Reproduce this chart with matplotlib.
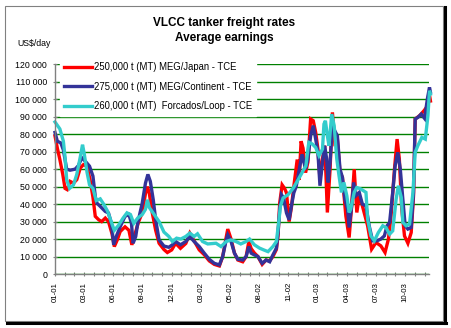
import matplotlib
matplotlib.use("Agg")
import matplotlib.pyplot as plt
from matplotlib.patches import Rectangle
from matplotlib.lines import Line2D
from matplotlib.ticker import FuncFormatter, MultipleLocator

plt.rcParams['font.family'] = ['Liberation Sans', 'DejaVu Sans']

W, H = 452, 328

# x positions are in "tick" units (category axis, labels every 3 ticks)
tick_labels = ["01-01", "03-01", "06-01", "09-01", "12-01", "03-02", "05-02",
               "08-02", "11-02", "01-03", "04-03", "07-03", "10-03"]

# 250,000 t (MT) MEG/Japan - TCE  (US$/day, thousands)
japan_t = [0, 0.24, 0.5, 0.8, 1.03, 1.25, 1.55, 1.9, 2.24, 2.6, 2.93, 3.28, 3.6, 3.9, 4.14,
           4.5, 4.8, 5.17, 5.5, 5.86, 6.1, 6.4, 6.7, 7.2, 7.6, 7.9, 8.3, 8.6, 8.97, 9.3,
           9.5, 9.7, 10.0, 10.35, 10.7, 11.2, 11.55, 12.0, 12.4, 12.9, 13.45, 13.86, 14.3,
           14.83, 15.35, 15.86, 16.38, 16.9, 17.24, 17.6, 17.76, 18.1, 18.45, 18.8, 19.3,
           19.65, 19.93, 20.17, 20.5, 20.86, 21.3, 21.7, 22.07, 22.4, 22.76, 22.93, 23.1,
           23.35, 23.6, 23.8, 24.07, 24.3, 24.55, 24.9, 25.1, 25.3, 25.5, 25.76, 26.0,
           26.28, 26.55, 26.8, 27.03, 27.24, 27.5, 27.72, 27.86, 28.0, 28.28, 28.52, 28.76,
           29.03, 29.3, 29.55, 29.9, 30.24, 30.5, 30.76, 31.03, 31.28, 31.6, 32.14, 32.55,
           33.0, 33.5, 33.93, 34.28, 34.55, 34.9, 35.17, 35.4, 35.65, 35.93, 36.28, 36.62,
           36.86, 37.03, 37.48, 37.93, 38.28, 38.45, 38.6]
japan_k = [79, 72, 65.5, 57, 49, 48.3, 53, 52, 54, 60.7, 62.6, 61.7, 54, 44, 33,
           31, 30, 32, 30, 23, 15.7, 19.5, 24.3, 27, 25, 16.7, 24.3, 30, 35, 46,
           50, 46, 35, 25, 17.6, 14, 12.3, 13.8, 17.6, 14.7, 17.5, 23.4, 19,
           13.8, 11, 7.5, 5.5, 4.6, 10, 21, 25.7, 20, 12, 8, 7,
           10, 18.6, 14.5, 12, 10, 5.5, 8, 7.5, 10, 14, 22, 40.6,
           51, 49, 46.4, 30, 38, 50, 65.5, 54, 76, 72, 58, 64,
           88.7, 87.7, 81, 71.5, 54.3, 65.8, 73.4, 56.2, 35.2, 60, 92.5, 75.3,
           77.2, 58.1, 55.3, 33.3, 20.9, 39, 60, 35.2, 44.8, 39, 27.6, 14.2,
           18, 16.1, 12.3, 20, 33.3, 60, 77.2, 65.8, 37.1, 21.8, 17.6, 23.7,
           44.8, 88.7, 90.6, 93.4, 96, 104, 99]

# 275,000 t (MT) MEG/Continent - TCE
cont_t = [0, 0.24, 0.6, 0.86, 1.2, 1.55, 2.07, 2.4, 2.76, 3.1, 3.55, 3.9, 4.14, 4.3, 4.65,
          5.17, 5.5, 5.8, 6.03, 6.3, 6.7, 7.2, 7.6, 7.86, 8.03, 8.3, 8.5, 8.7, 8.97, 9.3,
          9.55, 9.8, 10.1, 10.35, 10.7, 11.2, 11.7, 12.07, 12.4, 12.9, 13.45, 13.86, 14.3,
          14.83, 15.35, 15.86, 16.38, 16.9, 17.24, 17.6, 17.76, 18.1, 18.45, 18.8, 19.3,
          19.65, 19.93, 20.17, 20.5, 20.86, 21.3, 21.7, 22.07, 22.4, 22.76, 22.93, 23.1,
          23.28, 23.5, 23.8, 24.07, 24.3, 24.55, 24.8, 25.17, 25.4, 25.76, 26.0, 26.28,
          26.55, 26.8, 27.03, 27.24, 27.5, 27.72, 27.93, 28.07, 28.28, 28.52, 28.76, 29.03,
          29.3, 29.55, 29.8, 30.07, 30.24, 30.5, 30.7, 30.93, 31.28, 31.6, 31.97, 32.3,
          32.65, 33.1, 33.5, 33.86, 34.14, 34.4, 34.72, 34.97, 35.24, 35.5, 35.76, 36.0,
          36.28, 36.62, 36.86, 37.03, 37.3, 37.65, 38.0, 38.28, 38.5, 38.6]
cont_k = [81, 76, 75, 71, 60, 59.4, 60, 62, 66.5, 64.6, 61.7, 56, 44.4, 40.6, 38.7,
          35.8, 34.9, 29, 16.7, 21.5, 27, 33, 34, 29, 17.6, 21.5, 29, 34, 40.6, 52,
          57, 53, 42.5, 31, 19.5, 16, 15.3, 16.7, 18.6, 16.7, 18.6, 21.5, 18.6,
          15.7, 11.9, 8.4, 6.1, 5.2, 10, 19.5, 22.4, 18.6, 11.9, 8.4, 8,
          10, 15.7, 11.9, 10.9, 10, 6.1, 8, 7, 10.9, 14.8, 23.4, 36.8,
          45.4, 43.5, 34.9, 31, 38.7, 46.4, 50.2, 61.7, 68.5, 60, 65.8, 79.1,
          84.9, 77.2, 69.6, 50.5, 63.9, 73.4, 65.8, 52.4, 63.9, 84.9, 82, 79.1,
          60, 55.3, 42.8, 37.1, 26.6, 39, 52.4, 44.8, 46.7, 40, 39, 27.6,
          19, 19, 20, 21.8, 27.6, 29.5, 46.7, 61.9, 69.6, 60, 42.8, 27.6,
          25.7, 26.6, 46.7, 88.7, 89.6, 91.5, 89, 100.1, 106.8, 104]

# 260,000 t (MT) Forcados/Loop - TCE
loop_t = [0, 0.5, 0.86, 1.03, 1.2, 1.5, 1.9, 2.24, 2.6, 2.83, 3.0, 3.3, 3.55, 3.9, 4.24,
          4.65, 5.0, 5.4, 5.9, 6.1, 6.55, 7.0, 7.4, 7.76, 8.1, 8.5, 8.97, 9.3, 9.5, 9.7,
          10.2, 10.7, 11.2, 11.7, 12.07, 12.5, 12.93, 13.45, 13.86, 14.3, 14.65, 15.17,
          15.7, 16.55, 17.07, 17.6, 18.1, 18.6, 19.1, 19.65, 20.0, 20.5, 21.03, 21.45,
          21.9, 22.4, 22.76, 23.03, 23.17, 23.45, 23.96, 24.5, 25.0, 25.45, 25.8, 26.0,
          26.1, 26.45, 26.8, 27.14, 27.5, 27.65, 27.8, 28.0, 28.17, 28.45, 28.7, 28.97,
          29.2, 29.45, 29.7, 30.0, 30.24, 30.4, 30.76, 31.03, 31.45, 31.97, 32.14, 32.48,
          32.83, 33.24, 33.7, 34.03, 34.4, 34.72, 35.07, 35.3, 35.6, 35.76, 36.1, 36.45,
          36.8, 37.03, 37.3, 37.72, 38.07, 38.34, 38.5, 38.6]
loop_k = [87, 83, 76, 67, 54, 49, 51, 57, 67, 74, 69, 58, 51, 49, 42,
          43, 40, 36, 28, 25, 28, 32, 35, 34, 29, 32, 34, 37, 42.5, 38,
          34, 30, 24, 21.5, 18.6, 20.5, 20, 21.5, 23.4, 21.5, 23, 18.6,
          17.2, 17.6, 15.7, 18.6, 19.5, 18.6, 17.2, 18.6, 20, 16.7, 14.8, 13.8,
          12.8, 15.7, 18.6, 31, 38.7, 43.5, 45.4, 49.2, 54, 58.5, 62, 71.5,
          75.3, 74.4, 72.4, 67.7, 71.5, 85.8, 87.7, 79.1, 73.4, 91.5, 84.9, 65.8,
          56.2, 46.7, 52.4, 44.8, 35.2, 37.1, 46.7, 49.5, 48.6, 46.7, 31.4, 21.8,
          19, 23.7, 27.6, 26.6, 22.8, 24.7, 42.8, 50.5, 43.8, 29.5, 27.6, 28.5,
          46.7, 69.6, 73.4, 78.2, 77.2, 90.6, 104.9, 103]

series = [
    ("250,000 t (MT) MEG/Japan - TCE", japan_t, japan_k, "#FF0000"),
    ("275,000 t (MT) MEG/Continent - TCE", cont_t, cont_k, "#333399"),
    ("260,000 t (MT)  Forcados/Loop - TCE", loop_t, loop_k, "#33CCCC"),
]


def fx(px):
    return px / W


def fy(py):
    return 1 - py / H


fig = plt.figure(figsize=(W / 100, H / 100), dpi=100)
fig.patch.set_facecolor("white")

# chart frame with a shadow at right/bottom
fig.patches.append(Rectangle((fx(5.5), fy(320.5)), fx(438), 315 / H, transform=fig.transFigure,
                             fill=False, edgecolor="#808080", linewidth=0.8))
fig.lines.append(Line2D([fx(445), fx(445)], [fy(7), fy(323)], transform=fig.transFigure,
                        color="black", linewidth=2.2))
fig.lines.append(Line2D([fx(7), fx(446)], [fy(322.5), fy(322.5)], transform=fig.transFigure,
                        color="black", linewidth=2.2))

ax = fig.add_axes([fx(55), fy(274), fx(429 - 55), (274 - 64.3) / H])
ax.set_facecolor("white")

for name, t, k, col in series:
    ax.plot(t, [v * 1000 for v in k], color=col, linewidth=2.4, label=name,
            solid_joinstyle="miter", clip_on=False)

ax.set_xlim(0, 38.45)
ax.set_ylim(0, 120000)
ax.yaxis.set_major_locator(MultipleLocator(10000))
ax.yaxis.set_major_formatter(FuncFormatter(lambda v, p: f"{int(v):,}".replace(",", " ")))
ax.set_xticks(range(0, 3 * len(tick_labels), 3))
ax.set_xticklabels(tick_labels, rotation=90)
ax.set_xticks(range(0, 39), minor=True)

ax.grid(axis="y", color="#008000", linewidth=1.0)
ax.set_axisbelow(True)
for s in ["top", "right"]:
    ax.spines[s].set_visible(False)
for s in ["left", "bottom"]:
    ax.spines[s].set_color("#808080")
    ax.spines[s].set_linewidth(1.0)

ax.tick_params(axis="both", which="both", direction="inout", length=3.4, width=0.8,
               color="#808080")
ax.tick_params(axis="y", labelsize=6.3, pad=4.0)
ax.tick_params(axis="x", labelsize=5.7, pad=3.8)

leg = ax.legend(loc="upper left", bbox_to_anchor=(60 / 100, (H - 58) / 100),
                bbox_transform=fig.dpi_scale_trans, fontsize=6.85, frameon=True,
                fancybox=False, facecolor="white", edgecolor="white", framealpha=1,
                handlelength=2.95, handletextpad=0.15, labelspacing=1.0,
                borderpad=0.45, borderaxespad=0)
leg.set_zorder(5)

fig.text(fx(224), fy(26), "VLCC tanker freight rates", ha="center", va="baseline",
         fontsize=8.5, fontweight="bold")
fig.text(fx(224), fy(40.5), "Average earnings", ha="center", va="baseline",
         fontsize=8.5, fontweight="bold")
fig.text(fx(17), fy(44), "US$/day", ha="left", va="center", fontsize=6.3)

fig.savefig("out.png", dpi=100, facecolor="white")
